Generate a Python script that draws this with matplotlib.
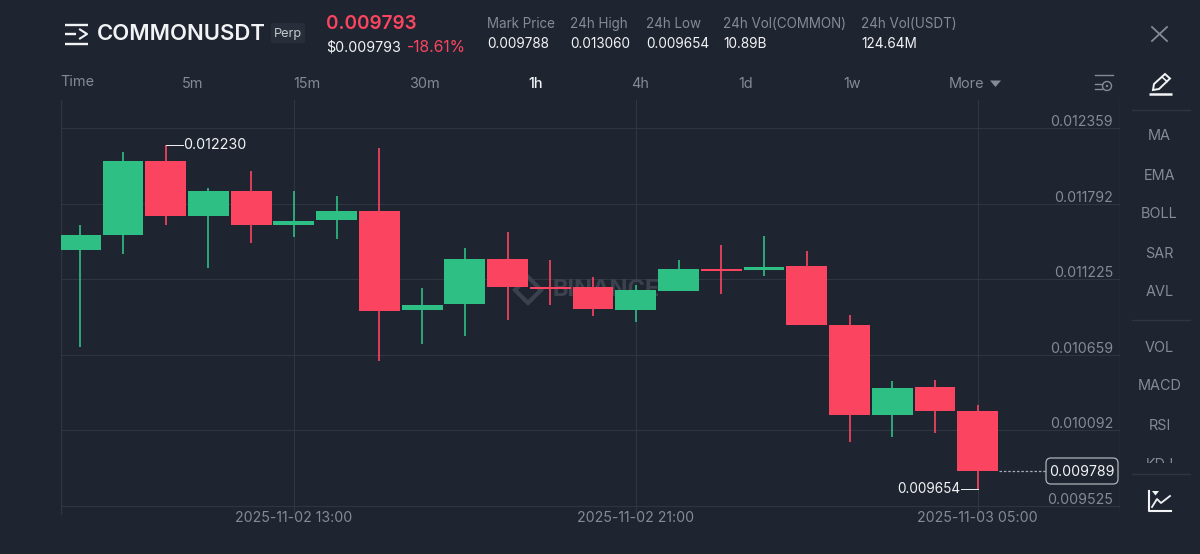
import matplotlib
matplotlib.use('Agg')
import matplotlib.pyplot as plt
from matplotlib.patches import FancyBboxPatch, Rectangle, Circle, Polygon

plt.rcParams['font.family'] = ['Inter', 'DejaVu Sans']

BG = '#1f2530'
GRID = '#2f3641'
GREY = '#858b94'
WHITE = '#f2f3f5'
GREEN = '#2ebf85'
RED = '#fb4560'

# candles, oldest first
opens = [0.011444, 0.011557, 0.012115, 0.011699, 0.011887, 0.011635, 0.011669, 0.011737, 0.010994, 0.011039, 0.011373,
         0.011167, 0.011163, 0.010994, 0.011140, 0.011302, 0.011294, 0.011324, 0.010882, 0.010203, 0.010417, 0.010237]
highs = [0.011632, 0.012179, 0.012230, 0.011909, 0.012036, 0.011890, 0.011849, 0.012209, 0.011159, 0.011459, 0.011579,
         0.011369, 0.011242, 0.011182, 0.011369, 0.011481, 0.011549, 0.011436, 0.010957, 0.010462, 0.010469, 0.010282]
lows = [0.010717, 0.011414, 0.011632, 0.011309, 0.011497, 0.011542, 0.011527, 0.010612, 0.010739, 0.010799, 0.010919,
        0.011028, 0.010949, 0.010904, 0.011140, 0.011114, 0.011249, 0.010882, 0.010004, 0.010042, 0.010072, 0.009654]
closes = [0.011557, 0.012115, 0.011699, 0.011887, 0.011635, 0.011662, 0.011737, 0.010987, 0.011032, 0.011373, 0.011163,
          0.011155, 0.010998, 0.011144, 0.011302, 0.011290, 0.011317, 0.010882, 0.010207, 0.010409, 0.010237, 0.009790]

price_ticks = [0.012359, 0.011792, 0.011225, 0.010659, 0.010092, 0.009525]
time_ticks = [5, 13, 21]
time_labels = ['2025-11-02 13:00', '2025-11-02 21:00', '2025-11-03 05:00']
period_labels = ['Time', '5m', '15m', '30m', '1h', '4h', '1d', '1w', 'More']
stat_names = ['Mark Price', '24h High', '24h Low', '24h Vol(COMMON)', '24h Vol(USDT)']
stat_values = ['0.009788', '0.013060', '0.009654', '10.89B', '124.64M']
indicators = ['MA', 'EMA', 'BOLL', 'SAR', 'AVL', 'VOL', 'MACD', 'RSI', 'KDJ']
last_price = 0.009789
W, H = 1200, 554

fig = plt.figure(figsize=(W / 100, H / 100), dpi=100, facecolor=BG)

# chart area runs x 61-1120, y 100-515 in picture pixels
ax = fig.add_axes([61 / W, 1 - 515 / H, (1120 - 61) / W, 415 / H], facecolor=BG)
ax.set_xlim((61 - 80.2) / 42.74, (1120 - 80.2) / 42.74)
ax.set_ylim(0.012359 - (515 - 128) * 7.5e-6, 0.012359 + 28 * 7.5e-6)
for s in ax.spines.values():
    s.set_visible(False)

ax.set_yticks(price_ticks)
ax.set_xticks(time_ticks, time_labels)
ax.grid(True, color=GRID, lw=0.8)
ax.set_axisbelow(True)
ax.axvline(ax.get_xlim()[0], color=GRID, lw=1.0)
ax.axvline(ax.get_xlim()[1] - 0.01, color=GRID, lw=1.0)
ax.tick_params(length=0, labelleft=False, labelbottom=True, pad=-3, labelsize=10.2, labelcolor=GREY)

for p in price_ticks:
    ax.annotate('%.6f' % p, (1, p), xycoords=('axes fraction', 'data'), xytext=(-5, -0.8),
                textcoords='offset points', ha='right', va='bottom', color=GREY, fontsize=10.2)

# watermark sits behind the candles
ax.text(12.3, 0.011144, 'BINANCE', color='#3b424d', fontsize=17, fontweight='bold', ha='center', va='center', zorder=1)
ax.plot([10.48], [0.011144], marker='D', ms=13, mfc='none', mec='#3b424d', mew=3, zorder=1)

for i in range(len(opens)):
    col = GREEN if closes[i] >= opens[i] else RED
    ax.vlines(i, lows[i], highs[i], color=col, lw=1.2, zorder=3)
    ax.bar(i, abs(closes[i] - opens[i]), width=0.955, bottom=min(opens[i], closes[i]), color=col, lw=0, zorder=4)

# high and low callouts
ax.plot([2, 2.4], [highs[2], highs[2]], color=WHITE, lw=0.7, zorder=3)
ax.text(2.4, highs[2], '%.6f' % highs[2], color=WHITE, fontsize=10.3, va='center', ha='left')
ax.plot([21, 20.62], [lows[21], lows[21]], color=WHITE, lw=0.7, zorder=3)
ax.text(20.6, lows[21], '%.6f' % lows[21], color=WHITE, fontsize=9.8, va='center', ha='right')

# last price line
ax.plot([21.5, 22.95], [last_price, last_price], color='#a8adb4', lw=0.9, ls=(0, (2, 1.5)), zorder=3)

# everything around the chart, in picture pixels
ui = fig.add_axes([0, 0, 1, 1])
ui.set_xlim(0, W)
ui.set_ylim(H, 0)
ui.axis('off')

ui.add_patch(FancyBboxPatch((1049, 461), 66, 20, boxstyle='round,pad=3,rounding_size=5', fc=BG, ec='#aeb3ba', lw=0.9))
ui.text(1082, 471.5, '%.6f' % last_price, color=WHITE, fontsize=10.2, ha='center', va='center')

# header
for y, x0, x1 in [(25, 65, 88), (34, 65, 76), (44, 65, 88)]:
    ui.plot([x0, x1], [y, y], color=WHITE, lw=1.7, solid_capstyle='butt')
ui.plot([80, 87, 80], [29.5, 34, 38.5], color=WHITE, lw=1.5)
ui.text(97, 34.5, 'COMMONUSDT', color=WHITE, fontsize=15.9, fontweight='semibold', va='center')
ui.add_patch(FancyBboxPatch((271, 23), 34, 20, boxstyle='round,pad=0,rounding_size=2', fc='#282e39', ec='none'))
ui.text(288, 34, 'Perp', color='#c4c8cd', fontsize=9.2, ha='center', va='center')
ui.text(326, 24, '0.009793', color=RED, fontsize=13.6, fontweight='semibold', va='center')
ui.text(326, 47.5, '$0.009793', color=WHITE, fontsize=10.3, va='center')
ui.text(407, 47.5, '-18.61%', color=RED, fontsize=11.3, va='center')

for x, n, v in zip([487, 570, 646, 723, 861], stat_names, stat_values):
    ui.text(x, 24, n, color=GREY, fontsize=9.7, va='center')
    ui.text(x, 44.5, v, color=WHITE, fontsize=9.8, va='center')

for x, s in zip([77, 193, 307, 424, 536, 640, 746, 852, 967], period_labels):
    ui.text(x, 82 if s == 'Time' else 83.5, s, color=WHITE if s == '1h' else GREY, fontsize=10.4,
            ha='center', va='center', fontweight='medium' if s == '1h' else 'normal')
ui.add_patch(Polygon([(990, 80.5), (1001, 80.5), (995.5, 87)], fc=GREY, ec='none'))

# settings icon
ui.plot([1095, 1113], [75, 75], color=GREY, lw=1)
ui.plot([1095, 1102], [84, 84], color=GREY, lw=1)
ui.plot([1095, 1102], [89, 89], color=GREY, lw=1)
ui.add_patch(Circle((1107, 86), 4.5, fc='none', ec=GREY, lw=1))
ui.add_patch(Circle((1107, 86), 1.2, fc=GREY, ec='none'))

# close and pen
ui.plot([1152, 1167], [27, 41], color=GREY, lw=1.3)
ui.plot([1167, 1152], [27, 41], color=GREY, lw=1.3)
ui.add_patch(Polygon([(1153, 90), (1154, 84), (1165, 74), (1170, 78.5), (1159, 89)], fc='none', ec=WHITE, lw=1.4))
ui.plot([1162, 1167], [77, 81.5], color=WHITE, lw=1.1)
ui.plot([1149, 1172], [94, 94], color=WHITE, lw=1.8, solid_capstyle='butt')

# right side panel
for y in [110, 320, 474]:
    ui.plot([1132, 1190], [y, y], color=GRID, lw=1)
for y, s in zip([136.5, 175.5, 214.5, 253.5, 292.5, 347.5, 386.5, 425.5, 465], indicators):
    t = ui.text(1159.5, y, s, color=GREY, fontsize=10.4, ha='center', va='center')
    if s == 'KDJ':
        # only the top of this one shows, the list scrolls under the divider
        t.set_clip_on(True)
        t.set_clip_path(Rectangle((1130, 440), 70, 23, transform=ui.transData))

# chart icon
ui.plot([1149, 1149, 1171], [491, 511, 511], color=WHITE, lw=1.5)
ui.plot([1152, 1157, 1161, 1170], [507, 499, 503, 496], color=WHITE, lw=1.3)
ui.add_patch(Polygon([(1152, 491), (1159, 491), (1155.5, 495.5)], fc=WHITE, ec='none'))

fig.savefig('out.png', dpi=100, facecolor=BG)
